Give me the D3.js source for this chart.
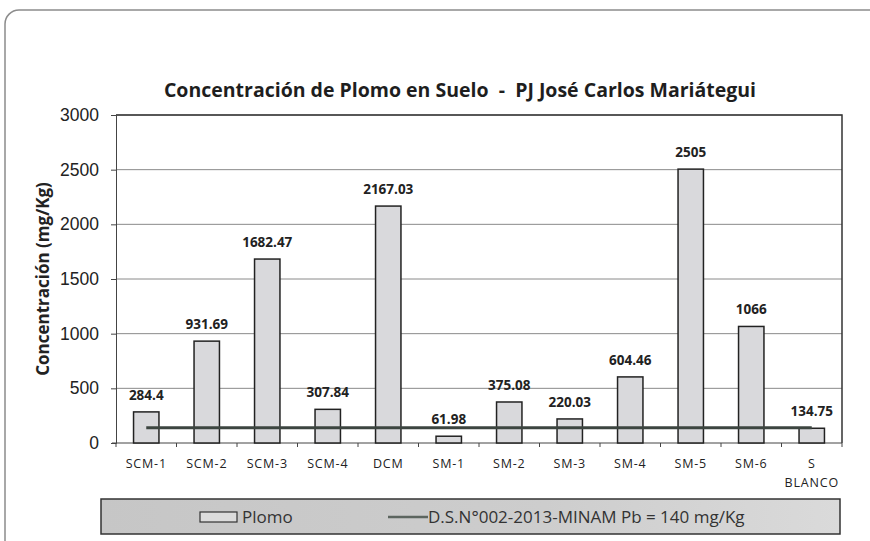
<!DOCTYPE html>
<html lang="es">
<head>
  <meta charset="UTF-8">
  <title>Concentración de Plomo en Suelo</title>
  <style>
  body { margin: 0; background: #fff; }
  svg { display: block; font-family: "Open Sans", Lato, sans-serif; }
  .bar { fill: #d9d9dc; stroke: #222; stroke-width: 1.5px; }
  .grid line { stroke: #8a8a8a; stroke-width: 1px; }
  .axis path, .axis line { stroke: #444; }
  .axis text { fill: #222; }
  .lbl { font-weight: bold; font-size: 13.5px; fill: #222; text-anchor: middle; }
  </style>
</head>
<body>
  <svg></svg>
  <script src="https://d3js.org/d3.v7.min.js"></script>
  <script>
  var categories = ['SCM-1', 'SCM-2', 'SCM-3', 'SCM-4', 'DCM', 'SM-1', 'SM-2', 'SM-3', 'SM-4', 'SM-5', 'SM-6', 'S BLANCO'];
  var plomo = [284.4, 931.69, 1682.47, 307.84, 2167.03, 61.98, 375.08, 220.03, 604.46, 2505, 1066, 134.75];
  var labels = ['284.4', '931.69', '1682.47', '307.84', '2167.03', '61.98', '375.08', '220.03', '604.46', '2505', '1066', '134.75'];
  var limite = 140;
  var yTicks = [0, 500, 1000, 1500, 2000, 2500, 3000];

  var width = 870, height = 541;
  var svg = d3.select('svg').attr('width', width).attr('height', height);

  var plot = { left: 116, right: 842, top: 115, bottom: 443 };

  // outer chart frame (runs past the right / bottom edge like the scan)
  svg.append('rect')
     .attr('x', 5).attr('y', 10)
     .attr('width', 900).attr('height', 600)
     .attr('rx', 14)
     .attr('fill', 'none')
     .attr('stroke', '#8c8c8c')
     .attr('stroke-width', 1.5);

  svg.append('text')
     .attr('x', 460).attr('y', 97)
     .attr('text-anchor', 'middle')
     .attr('font-weight', 'bold')
     .attr('font-size', 19.5)
     .attr('fill', '#1e1e1e')
     .style('white-space', 'pre')
     .text('Concentración de Plomo en Suelo  -  PJ José Carlos Mariátegui');

  var x = d3.scaleBand().domain(categories).range([plot.left, plot.right]).paddingInner(0.58).paddingOuter(0.29);
  var xb = d3.scaleBand().domain(categories).range([plot.left, plot.right]);
  var y = d3.scaleLinear().domain([0, 3000]).range([plot.bottom, plot.top]);

  // gridlines
  svg.append('g').attr('class', 'grid')
     .selectAll('line')
     .data(yTicks.filter(function (d) { return d > 0; }))
     .enter().append('line')
     .attr('x1', plot.left).attr('x2', plot.right)
     .attr('y1', function (d) { return y(d); })
     .attr('y2', function (d) { return y(d); });

  // plot border (top + right)
  svg.append('path')
     .attr('d', 'M' + plot.left + ',' + plot.top + 'H' + plot.right + 'V' + plot.bottom)
     .attr('fill', 'none').attr('stroke', '#333').attr('stroke-width', 1.5);

  // y axis
  var yAxis = svg.append('g').attr('class', 'axis')
     .attr('transform', 'translate(' + plot.left + ',0)')
     .call(d3.axisLeft(y).tickValues(yTicks).tickFormat(d3.format('d')).tickSize(5).tickPadding(12));
  yAxis.selectAll('text').attr('font-size', 17.5).attr('fill', '#222');

  // x axis: ticks at band boundaries
  var xAxis = svg.append('g').attr('class', 'axis')
     .attr('transform', 'translate(0,' + plot.bottom + ')');
  xAxis.append('line').attr('x1', plot.left - 4).attr('x2', plot.right).attr('stroke', '#444');
  xAxis.selectAll('.tk')
     .data(categories.concat(['end']))
     .enter().append('line')
     .attr('class', 'tk')
     .attr('x1', function (d, i) { return plot.left + i * xb.step(); })
     .attr('x2', function (d, i) { return plot.left + i * xb.step(); })
     .attr('y1', 0).attr('y2', 4)
     .attr('stroke', '#444');
  xAxis.selectAll('.xl')
     .data(categories)
     .enter().append('text')
     .attr('class', 'xl')
     .attr('text-anchor', 'middle')
     .attr('font-size', 12.5)
     .attr('letter-spacing', 0.8)
     .attr('fill', '#222')
     .attr('transform', function (d) { return 'translate(' + (xb(d) + xb.bandwidth() / 2) + ',25)'; })
     .each(function (d) {
       var parts = d.split(' ');
       var t = d3.select(this);
       parts.forEach(function (p, i) {
         t.append('tspan').attr('x', 0).attr('dy', i === 0 ? 0 : 19).text(p);
       });
     });

  // bars
  svg.append('g').selectAll('rect')
     .data(plomo)
     .enter().append('rect')
     .attr('class', 'bar')
     .attr('x', function (d, i) { return x(categories[i]); })
     .attr('width', x.bandwidth())
     .attr('y', function (d) { return y(d); })
     .attr('height', function (d) { return y(0) - y(d); });

  // data labels
  svg.append('g').selectAll('text')
     .data(plomo)
     .enter().append('text')
     .attr('class', 'lbl')
     .attr('x', function (d, i) { return xb(categories[i]) + xb.bandwidth() / 2; })
     .attr('y', function (d) { return y(d) - 12; })
     .text(function (d, i) { return labels[i]; });

  // limit line D.S. N°002-2013-MINAM
  var line = d3.line()
     .x(function (d) { return xb(d) + xb.bandwidth() / 2; })
     .y(function () { return y(limite); });
  svg.append('path')
     .datum(categories)
     .attr('d', line)
     .attr('fill', 'none')
     .attr('stroke', '#3c4540')
     .attr('stroke-width', 3);

  // legend
  var defs = svg.append('defs');
  var grad = defs.append('linearGradient').attr('id', 'lg');
  grad.append('stop').attr('offset', '0%').attr('stop-color', '#c6c6c6');
  grad.append('stop').attr('offset', '60%').attr('stop-color', '#cdcdcd');
  grad.append('stop').attr('offset', '100%').attr('stop-color', '#dadada');

  var legend = svg.append('g').attr('transform', 'translate(101,499)');
  legend.append('rect')
     .attr('width', 739).attr('height', 35)
     .attr('fill', 'url(#lg)')
     .attr('stroke', '#333').attr('stroke-width', 1.5);
  legend.append('rect')
     .attr('x', 99).attr('y', 13).attr('width', 37).attr('height', 10)
     .attr('fill', '#dcdcdc').attr('stroke', '#333').attr('stroke-width', 1.2);
  legend.append('text')
     .attr('x', 141).attr('y', 24)
     .attr('font-size', 17).attr('fill', '#333')
     .text('Plomo');
  legend.append('line')
     .attr('x1', 287).attr('x2', 327).attr('y1', 18).attr('y2', 18)
     .attr('stroke', '#5c655f').attr('stroke-width', 2.5);
  legend.append('text')
     .attr('x', 327).attr('y', 24)
     .attr('font-size', 17).attr('fill', '#333')
     .text('D.S.N°002-2013-MINAM Pb = 140 mg/Kg');

  // y axis title
  svg.append('text')
     .attr('transform', 'translate(49,279) rotate(-90)')
     .attr('text-anchor', 'middle')
     .attr('font-weight', 'bold')
     .attr('font-size', 17)
     .attr('fill', '#222')
     .text('Concentración (mg/Kg)');
  </script>
</body>
</html>
